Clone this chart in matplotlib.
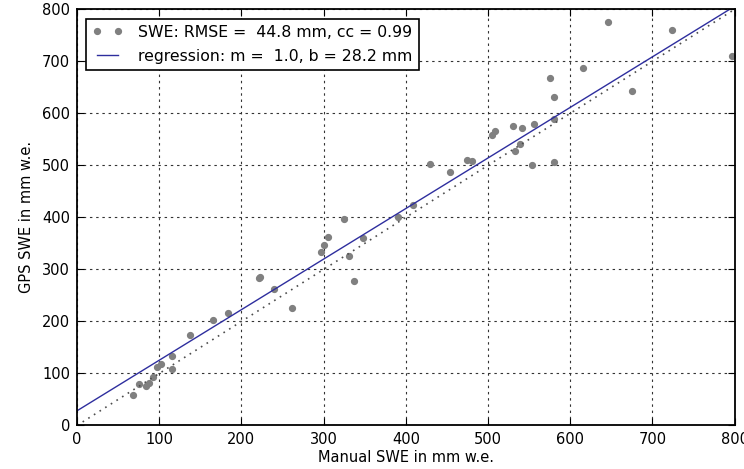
import numpy as np
import matplotlib
matplotlib.use('Agg')
import matplotlib.pyplot as plt

# Manual vs GPS SWE (mm w.e.)
manual_swe = [68, 76, 84, 87, 92, 97, 102, 116, 116, 138, 166, 184, 221, 222,
              240, 262, 297, 301, 305, 325, 331, 337, 348, 391, 409, 429, 454,
              474, 481, 505, 509, 530, 533, 539, 541, 553, 556, 575, 580, 580,
              580, 615, 646, 675, 724, 797]
gps_swe = [59, 79, 76, 81, 93, 113, 118, 108, 134, 173, 202, 217, 284, 286,
           263, 226, 334, 346, 362, 397, 326, 278, 360, 401, 424, 503, 487,
           510, 508, 559, 566, 575, 528, 541, 571, 501, 580, 667, 631, 506,
           589, 687, 776, 643, 760, 710]

# stats shown in the legend
rmse = 44.8
cc = 0.99
slope = 0.972
intercept = 28.2

fig = plt.figure(figsize=(7.44, 4.69), dpi=100)
ax = fig.add_axes([0.1035, 0.0928, 0.884, 0.8875])

ax.plot(manual_swe, gps_swe, 'o', color='0.5', mec='0.5', ms=4.2,
        label='SWE: RMSE = %5.1f mm, cc = %4.2f' % (rmse, cc))
xx = np.array([0, 800])
ax.plot(xx, slope * xx + intercept, '-', color='#2e2e9e', lw=1.0,
        label='regression: m = %4.1f, b = %4.1f mm' % (round(slope, 1), intercept))
ax.plot(xx, xx, ls=(0, (1, 3)), color='0.3', lw=1.2)

ax.set_xlim(0, 800)
ax.set_ylim(0, 800)
ax.set_xticks(np.arange(0, 801, 100))
ax.set_yticks(np.arange(0, 801, 100))
ax.tick_params(direction='in', top=True, right=True, length=5, labelsize=10.5,
               pad=5)
ax.grid(True, ls=(0, (2.2, 3.4)), color='0.2', lw=0.8)
for s in ax.spines.values():
    s.set_linewidth(1.3)

ax.set_xlabel('Manual SWE in mm w.e.', fontsize=10.5, labelpad=2)
ax.set_ylabel('GPS SWE in mm w.e.', fontsize=10.5, labelpad=6)

leg = ax.legend(loc='upper left', numpoints=2, fancybox=False, framealpha=1,
                edgecolor='k', fontsize=11.3, handlelength=1.9,
                handletextpad=1.0, labelspacing=0.55, borderpad=0.4,
                borderaxespad=0.6)
leg.get_frame().set_linewidth(1.2)

fig.savefig('out.png', dpi=100, facecolor='white')
